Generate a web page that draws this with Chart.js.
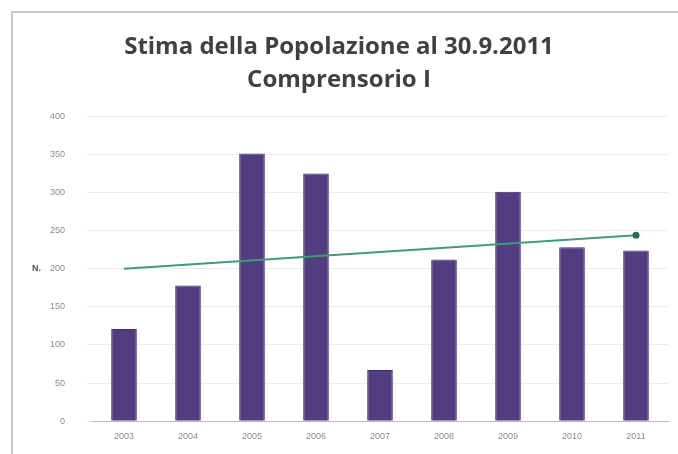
<!DOCTYPE html>
<html>
<head>
<meta charset="utf-8">
<script src="https://cdn.jsdelivr.net/npm/chart.js@4"></script>
<style>
  html, body { margin: 0; padding: 0; background: #fff; }
  #wrap { position: relative; width: 678px; height: 454px; }
  #frame { position: absolute; left: 11px; top: 11px; right: -2px; bottom: -2px;
           border: 2px solid #c9c9c9; pointer-events: none; }
</style>
</head>
<body>
<div id="wrap">
  <canvas id="popChart" width="678" height="454"></canvas>
  <div id="frame"></div>
</div>
<script>
const anni = ["2003", "2004", "2005", "2006", "2007", "2008", "2009", "2010", "2011"];
const popolazione = [121, 178, 351, 325, 67, 212, 301, 228, 224];
// linea di tendenza: solo primo e ultimo punto
const tendenza = [200, null, null, null, null, null, null, null, 244];
const yTicks = [0, 50, 100, 150, 200, 250, 300, 350, 400];

const ctx = document.getElementById("popChart").getContext("2d");

// etichetta "N." accanto all'asse verticale
const axisUnit = {
  id: "axisUnit",
  afterDraw(chart) {
    const { ctx, scales: { y } } = chart;
    ctx.save();
    ctx.font = "bold 9px 'Liberation Sans'";
    ctx.fillStyle = "#555";
    ctx.textAlign = "left";
    ctx.textBaseline = "middle";
    ctx.fillText("N.", 32, y.getPixelForValue(200));
    ctx.restore();
  },
};

const popChart = new Chart(ctx, {
  type: "bar",
  data: {
    labels: anni,
    datasets: [
      {
        type: "line",
        label: "Tendenza",
        data: tendenza,
        spanGaps: true,
        borderColor: "#3f9a78",
        borderWidth: 2,
        pointRadius: [0, 0, 0, 0, 0, 0, 0, 0, 3.5],
        pointBackgroundColor: "#2e6e58",
        pointBorderWidth: 0,
        tension: 0,
      },
      {
        label: "Popolazione",
        data: popolazione,
        backgroundColor: "#523d80",
        borderColor: "#3d2d60",
        borderWidth: 1,
        categoryPercentage: 0.8,
        barPercentage: 0.5,
      },
    ],
  },
  options: {
    responsive: false,
    animation: false,
    layout: { padding: { left: 10, right: 10, top: 30, bottom: 2 } },
    plugins: {
      legend: { display: false },
      tooltip: { enabled: false },
      title: {
        display: true,
        text: ["Stima della Popolazione al 30.9.2011", "Comprensorio I"],
        color: "#404040",
        font: { family: "Open Sans", size: 24, weight: "bold", lineHeight: 1.4 },
        padding: { top: 0, bottom: 19 },
      },
    },
    scales: {
      x: {
        grid: { display: false, drawTicks: false },
        border: { color: "#bdbdbd" },
        ticks: { color: "#8a8a8a", font: { size: 9, family: "Liberation Sans" }, padding: 10 },
      },
      y: {
        min: 0,
        max: 400,
        afterBuildTicks(axis) {
          axis.ticks = yTicks.map((v) => ({ value: v }));
        },
        afterFit(axis) {
          axis.width = 82;
        },
        grid: { color: "#ececec", drawTicks: true, tickLength: 5 },
        border: { display: false },
        ticks: { color: "#8a8a8a", font: { size: 9, family: "Liberation Sans" }, padding: 22 },
      },
    },
  },
  plugins: [axisUnit],
});
</script>
</body>
</html>
